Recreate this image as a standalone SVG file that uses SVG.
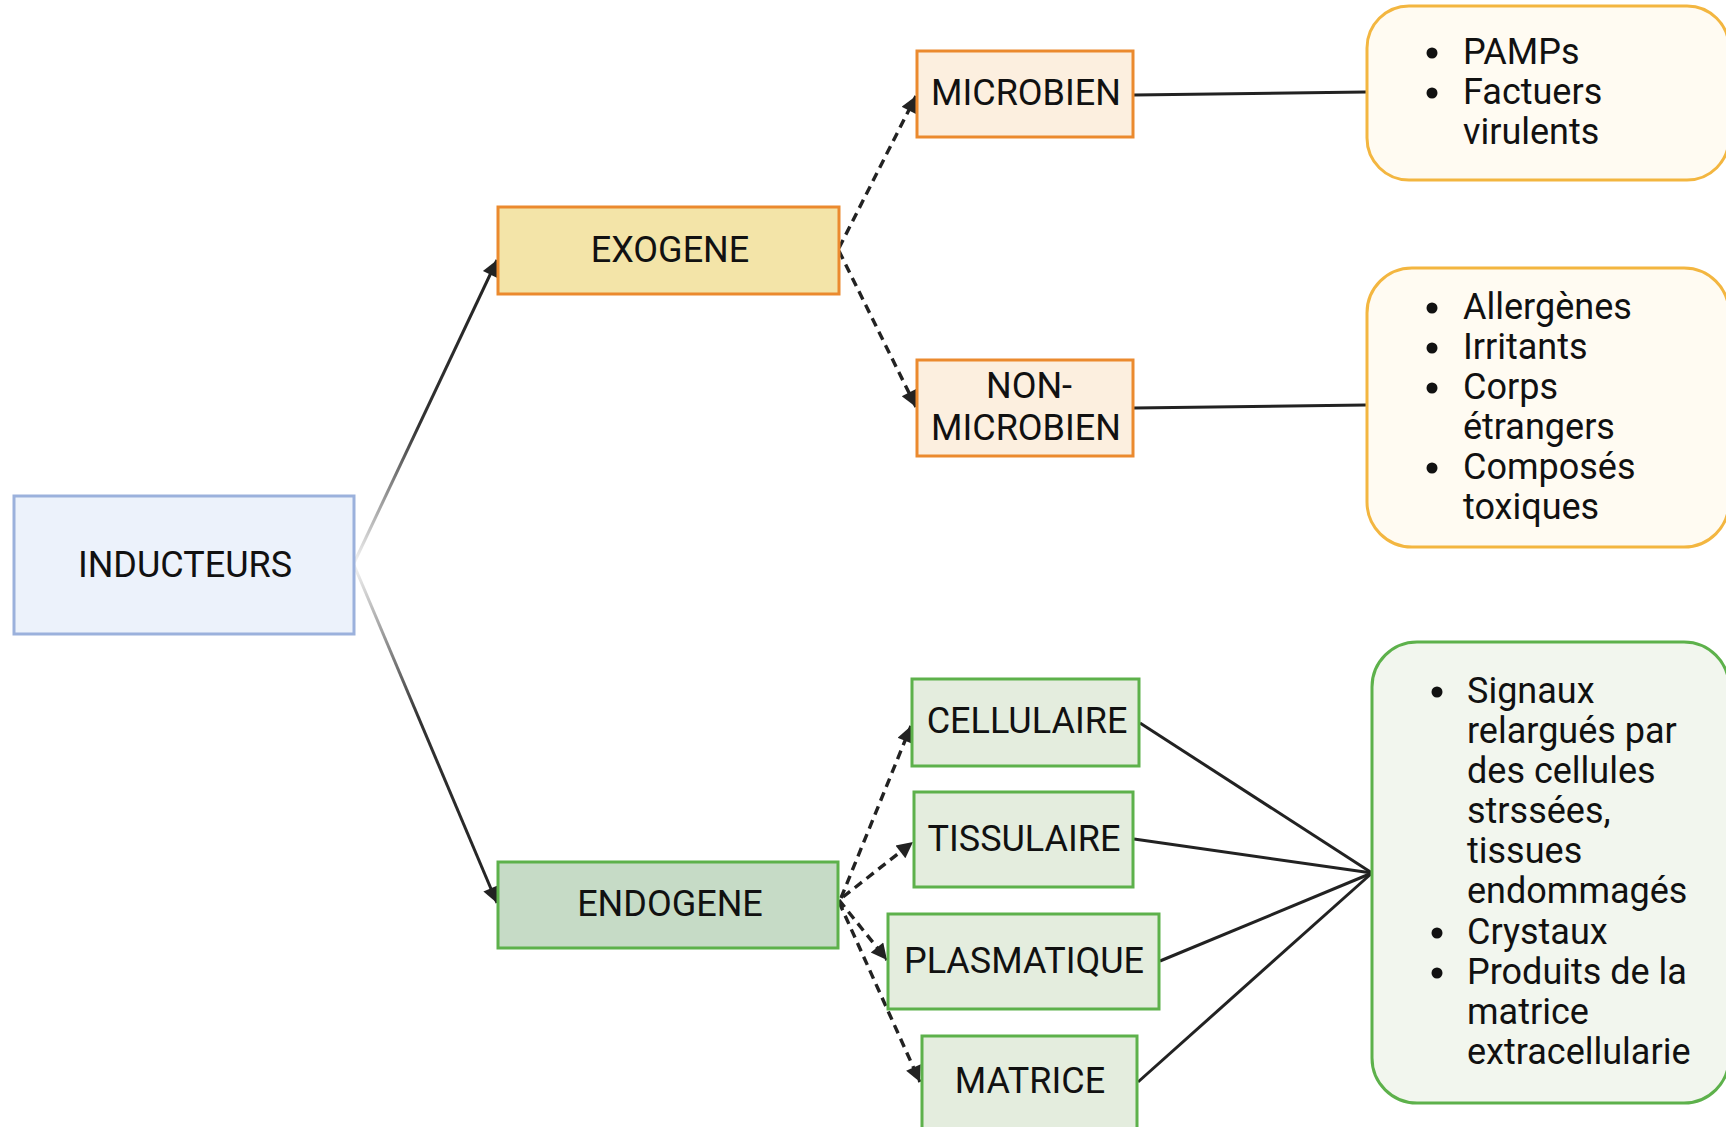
<svg xmlns="http://www.w3.org/2000/svg" width="1726" height="1127" viewBox="0 0 1726 1127">
<style>
text{font-family:Roboto,"Noto Sans",sans-serif;font-size:36px;fill:#111}
.c{text-anchor:middle}
.node{stroke-width:3}
.blue{fill:#ecf2fb;stroke:#9bb1dc}
.exo{fill:#f3e4a8;stroke:#eb8a2e}
.exo2{fill:#fcefdf;stroke:#eb8a2e}
.list1{fill:#fffbf2;stroke:#f3b640}
.endo{fill:#c6dbc6;stroke:#5db14b}
.endo2{fill:#e4edde;stroke:#5db14b}
.list2{fill:#f2f6ee;stroke:#5db14b}
.dash{fill:none;stroke:#222;stroke-width:3.4;stroke-dasharray:9 6;marker-end:url(#ah)}
.solid{fill:none;stroke:#222;stroke-width:3}
.bul{fill:#111}
</style>
<defs>
<marker id="ah" viewBox="0 0 10 10" refX="10" refY="5" markerWidth="22" markerHeight="16" markerUnits="userSpaceOnUse" orient="auto">
<path d="M0,0 L10,5 L0,10 z" fill="#222"/>
</marker>
<linearGradient id="g1" gradientUnits="userSpaceOnUse" x1="354" y1="563" x2="497" y2="260">
<stop offset="0" stop-color="#f4f4f4"/><stop offset="0.45" stop-color="#333"/><stop offset="1" stop-color="#222"/>
</linearGradient>
<linearGradient id="g2" gradientUnits="userSpaceOnUse" x1="354" y1="565" x2="497" y2="903">
<stop offset="0" stop-color="#f4f4f4"/><stop offset="0.45" stop-color="#333"/><stop offset="1" stop-color="#222"/>
</linearGradient>
</defs>
<rect width="1726" height="1127" fill="#fff"/>
<g id="connectors">
<path d="M354,563 L497,260" fill="none" stroke="url(#g1)" stroke-width="3" marker-end="url(#ah)"/>
<path d="M354,565 L497,903" fill="none" stroke="url(#g2)" stroke-width="3" marker-end="url(#ah)"/>
<path class="dash" d="M839,248 L916,96"/>
<path class="dash" d="M839,251 L916,407"/>
<path class="dash" d="M841,898 L911,726"/>
<path class="dash" d="M843,897 L913,842"/>
<path class="dash" d="M839,900 L887,960"/>
<path class="dash" d="M839,902 L920,1082"/>
<path class="solid" d="M1134,95 L1366,92"/>
<path class="solid" d="M1134,408 L1366,405"/>
<path class="solid" d="M1140,723 L1372,873"/>
<path class="solid" d="M1134,839 L1372,873"/>
<path class="solid" d="M1160,961 L1372,873"/>
<path class="solid" d="M1138,1082 L1372,873"/>
</g>
<g id="inducteurs"><rect class="node blue" x="14" y="496" width="340" height="138"/><text class="c" x="185" y="577">INDUCTEURS</text></g>
<g id="exogene"><rect class="node exo" x="498" y="207" width="341" height="87"/><text class="c" x="670" y="262">EXOGENE</text></g>
<g id="endogene"><rect class="node endo" x="498" y="862" width="340" height="86"/><text class="c" x="670" y="916">ENDOGENE</text></g>
<g id="microbien"><rect class="node exo2" x="917" y="51" width="216" height="86"/><text class="c" x="1026" y="105">MICROBIEN</text></g>
<g id="non-microbien"><rect class="node exo2" x="917" y="360" width="216" height="96"/><text class="c" x="1029" y="398">NON-</text><text class="c" x="1026" y="440">MICROBIEN</text></g>
<g id="cellulaire"><rect class="node endo2" x="912" y="679" width="227" height="87"/><text class="c" x="1027" y="733">CELLULAIRE</text></g>
<g id="tissulaire"><rect class="node endo2" x="914" y="792" width="219" height="95"/><text class="c" x="1024" y="851">TISSULAIRE</text></g>
<g id="plasmatique"><rect class="node endo2" x="888" y="914" width="271" height="95"/><text class="c" x="1024" y="973">PLASMATIQUE</text></g>
<g id="matrice"><rect class="node endo2" x="922" y="1036" width="215" height="100"/><text class="c" x="1030" y="1093">MATRICE</text></g>
<g id="list-microbien"><rect class="node list1" x="1367" y="6" width="362" height="174" rx="42"/>
<circle class="bul" cx="1432" cy="53" r="5.5"/><circle class="bul" cx="1432" cy="93" r="5.5"/>
<text x="1463" y="64">PAMPs</text><text x="1463" y="104">Factuers</text><text x="1463" y="144">virulents</text></g>
<g id="list-non-microbien"><rect class="node list1" x="1367" y="268" width="362" height="279" rx="45"/>
<circle class="bul" cx="1432" cy="308" r="5.5"/><circle class="bul" cx="1432" cy="348" r="5.5"/><circle class="bul" cx="1432" cy="388" r="5.5"/><circle class="bul" cx="1432" cy="468" r="5.5"/>
<text x="1463" y="319">Allergènes</text><text x="1463" y="359">Irritants</text><text x="1463" y="399">Corps</text><text x="1463" y="439">étrangers</text><text x="1463" y="479">Composés</text><text x="1463" y="519">toxiques</text></g>
<g id="list-endogene"><rect class="node list2" x="1372" y="642" width="357" height="461" rx="45"/>
<circle class="bul" cx="1437" cy="692" r="5.5"/><circle class="bul" cx="1437" cy="933" r="5.5"/><circle class="bul" cx="1437" cy="973" r="5.5"/>
<text x="1467" y="703">Signaux</text><text x="1467" y="743">relargués par</text><text x="1467" y="783">des cellules</text><text x="1467" y="823">strssées,</text><text x="1467" y="863">tissues</text><text x="1467" y="903">endommagés</text><text x="1467" y="944">Crystaux</text><text x="1467" y="984">Produits de la</text><text x="1467" y="1024">matrice</text><text x="1467" y="1064">extracellularie</text></g>
</svg>
